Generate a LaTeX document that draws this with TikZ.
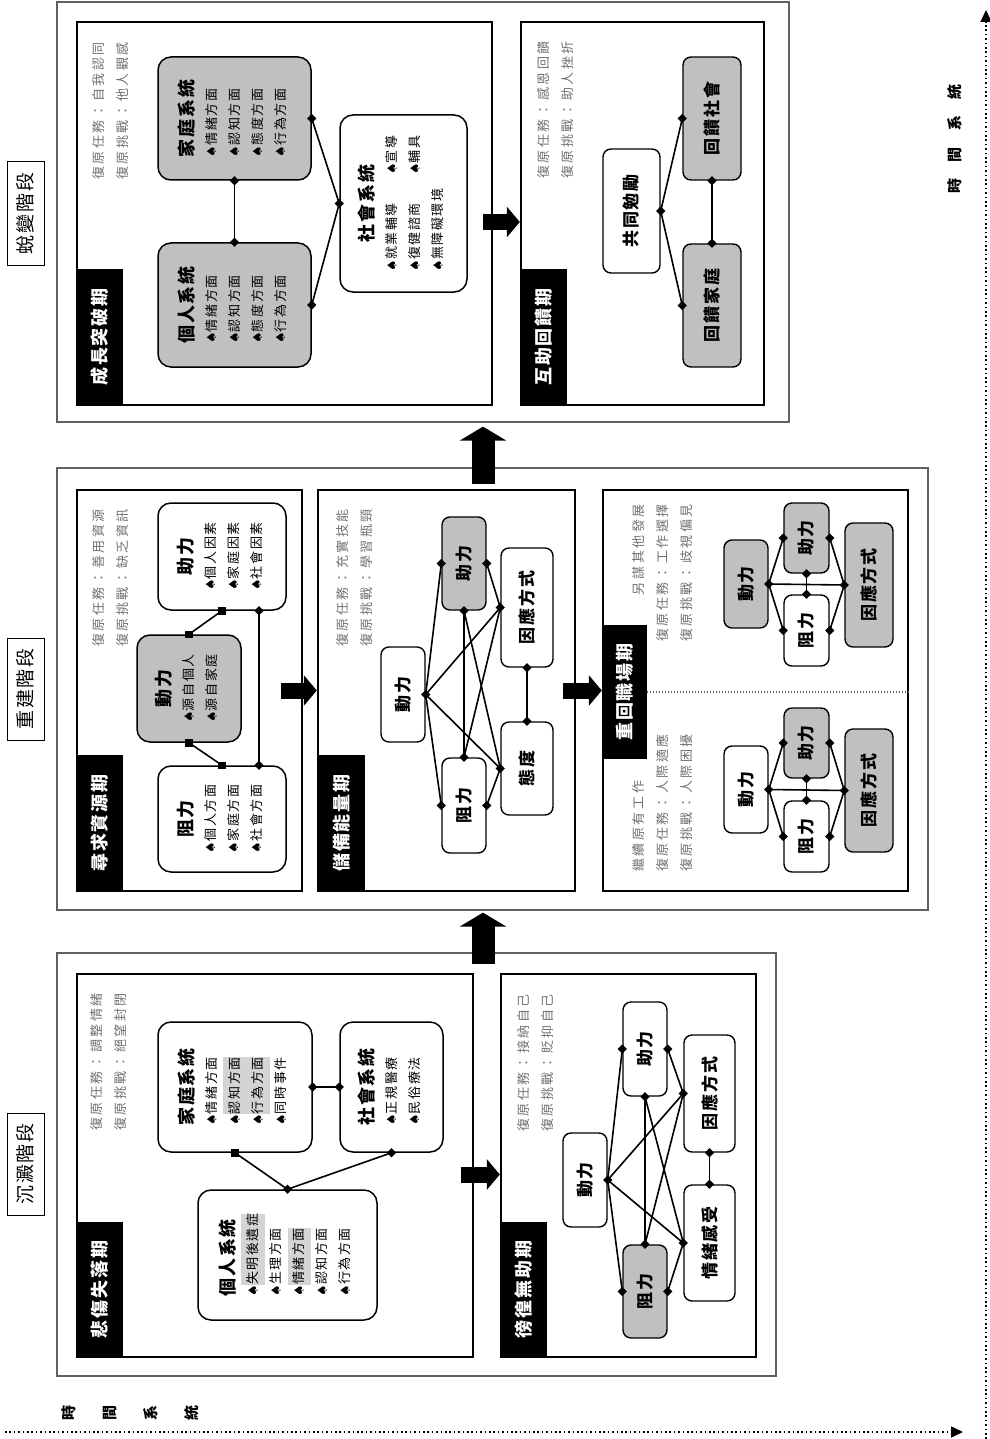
\documentclass[tikz,border=0pt]{standalone}
\usepackage{fontspec}
\usepackage{graphicx}
\usetikzlibrary{arrows.meta,shapes.geometric}
\setmainfont{Noto Sans CJK TC}
\newfontfamily\dvs{DejaVu Sans}
\definecolor{boxgray}{HTML}{C0C0C0}
\definecolor{hlgray}{HTML}{D4D4D4}
\definecolor{txtgray}{HTML}{707070}
\definecolor{stgray}{HTML}{606060}
\newcommand\gtx{\fontsize{13}{24}\selectfont\addfontfeature{LetterSpace=20}\color{txtgray}}
\newcommand\itm{\fontsize{13}{23}\selectfont\addfontfeature{LetterSpace=12}}
\newcommand\ttl{\fontsize{18}{23}\selectfont\bfseries\addfontfeature{LetterSpace=10}}
\newcommand\nbt{\fontsize{17}{20}\selectfont\bfseries\addfontfeature{LetterSpace=10}}
\newcommand\lbt{\fontsize{18}{20}\selectfont\bfseries\addfontfeature{LetterSpace=10}\color{white}}
\newcommand\stt{\fontsize{19}{20}\selectfont\addfontfeature{LetterSpace=10}}
\newcommand\tmt{\fontsize{15}{41}\selectfont\bfseries}
\newcommand\tmr{\fontsize{15}{20}\selectfont\bfseries\addfontfeature{LetterSpace=107}}
\newcommand\bul{{\dvs\fontsize{13}{13}\selectfont ♠}}
\newcommand\hl[1]{{\setlength{\fboxsep}{0pt}\colorbox{hlgray}{\rule[-7pt]{0pt}{23.2pt}#1}}}
\newcommand\rt[3]{\rotatebox{90}{#1\begin{tabular}{@{}#2@{}}#3\end{tabular}}}
\newcommand\rb[1]{\rotatebox{90}{\nbt #1}}
\newcommand\mkbox[7][sys]{\node[#1, minimum width={(#5-#3)*1pt}, minimum height={(#6-#4)*1pt}] (#2) at ({(#3+#5)/2},{(#4+#6)/2}) {#7};}
\newcommand\net[5]{%
 \draw[conn] (#1.east) node[dm]{} -- (#2.west) node[dm]{};
 \draw[conn] (#1.east) -- (#3.west) node[dm]{};
 \draw[conn] (#1.east) -- (#4.west) node[dm]{};
 \draw[conn] (#1.east) -- (#5.west) node[dm]{};
 \draw[conn] (#2.south) node[dm]{} -- (#3.north) node[dm]{};
 \draw[conn] (#2.south) -- (#5.west);
 \draw[conn] (#3.north) -- (#4.west);
 \draw[conn] (#2.east) node[dm]{} -- (#4.west);
 \draw[conn] (#3.east) node[dm]{} -- (#5.west);
 \draw[conn] (#4.south) node[dm]{} -- (#5.north) node[dm]{};}
\newcommand\jnet[4]{%
 \draw[conn] (#1.east) node[dm]{} -- (#2.west) node[dm]{};
 \draw[conn] (#1.east) -- (#3.west) node[dm]{};
 \draw[conn] (#1.east) -- (#4.west) node[dm]{};
 \draw[conn] (#2.south) node[dm]{} -- (#3.north) node[dm]{};
 \draw[conn] (#2.east) node[dm]{} -- (#4.west);
 \draw[conn] (#3.east) node[dm]{} -- (#4.west);}
\tikzset{
 stagebox/.style={draw=stgray, line width=1.2pt, inner sep=0pt},
 inbox/.style={draw=black, line width=2.4pt, inner sep=0pt},
 lab/.style={fill=black, inner sep=0pt},
 stlab/.style={draw=black, line width=1pt, inner sep=0pt},
 sys/.style={draw=black, line width=1.5pt, rounded corners=13pt, fill=white, inner sep=0pt},
 gsys/.style={sys, fill=boxgray},
 nb/.style={draw=black, line width=1.4pt, rounded corners=8pt, fill=white, inner sep=0pt},
 gnb/.style={nb, fill=boxgray},
 conn/.style={line width=1.6pt},
 dm/.style={diamond, fill=black, inner sep=0pt, minimum size=10pt},
 sq/.style={rectangle, fill=black, inner sep=0pt, minimum size=7.5pt},
 blk/.style={line width=16pt, -{Triangle[length=13pt,width=30pt]}},
 bigarr/.style={line width=23pt, -{Triangle[length=14pt,width=46pt]}},
 axis/.style={line width=1.6pt, dash pattern=on 1.6pt off 2.8pt, -{Triangle[length=12pt,width=11pt]}},
 divl/.style={line width=1.2pt, dash pattern=on 1.2pt off 1.8pt, draw=stgray},
 txt/.style={inner sep=0pt},
}
\begin{document}
\begin{tikzpicture}[x=1pt,y=-1pt]
\useasboundingbox (0,0) rectangle (989,1439);
% stage labels
\mkbox[stlab]{st3}{7}{162}{44}{265}{\rotatebox{90}{\stt 蛻變階段}}
\mkbox[stlab]{st2}{7}{638}{44}{740}{\rotatebox{90}{\stt 重建階段}}
\mkbox[stlab]{st1}{7}{1113}{44}{1215}{\rotatebox{90}{\stt 沉澱階段}}
% stage boxes
\mkbox[stagebox]{S3}{57}{2}{789}{422}{}
\mkbox[stagebox]{S2}{57}{468}{928}{910}{}
\mkbox[stagebox]{S1}{57}{953}{776}{1376}{}
% inner boxes
\mkbox[inbox]{I31}{77}{22}{492}{405}{}
\mkbox[inbox]{I32}{521}{22}{764}{405}{}
\mkbox[inbox]{I21}{77}{490}{302}{891}{}
\mkbox[inbox]{I22}{318}{490}{575}{891}{}
\mkbox[inbox]{I23}{603}{490}{908}{891}{}
\mkbox[inbox]{I11}{77}{974}{473}{1357}{}
\mkbox[inbox]{I12}{501}{974}{756}{1357}{}
% black labels
\mkbox[lab]{L31}{77}{269}{123}{405}{\rotatebox{90}{\lbt 成長突破期}}
\mkbox[lab]{L32}{521}{269}{567}{405}{\rotatebox{90}{\lbt 互助回饋期}}
\mkbox[lab]{L21}{77}{755}{123}{891}{\rotatebox{90}{\lbt 尋求資源期}}
\mkbox[lab]{L22}{318}{755}{365}{891}{\rotatebox{90}{\lbt 儲備能量期}}
\mkbox[lab]{L23}{603}{625}{647}{759}{\rotatebox{90}{\lbt 重回職場期}}
\mkbox[lab]{L11}{77}{1222}{123}{1357}{\rotatebox{90}{\lbt 悲傷失落期}}
\mkbox[lab]{L12}{501}{1222}{547}{1357}{\rotatebox{90}{\lbt 徬徨無助期}}
% task texts
\node[txt] (T31) at (111,111) {\rt{\gtx}{l}{復原任務：自我認同\\復原挑戰：他人觀感}};
\node[txt] (T32) at (556,110) {\rt{\gtx}{l}{復原任務：感恩回饋\\復原挑戰：助人挫折}};
\node[txt] (T21) at (111,578) {\rt{\gtx}{l}{復原任務：善用資源\\復原挑戰：缺乏資訊}};
\node[txt] (T22) at (355,578) {\rt{\gtx}{l}{復原任務：充實技能\\復原挑戰：學習瓶頸}};
\node[txt] (T23a) at (663,573) {\rt{\gtx}{r}{另謀其他發展\\復原任務：工作選擇\\復原挑戰：歧視偏見}};
\node[txt] (T23b) at (663,803) {\rt{\gtx}{l}{繼續原有工作\\復原任務：人際適應\\復原挑戰：人際困擾}};
\node[txt] (T11) at (109,1062) {\rt{\gtx}{l}{復原任務：調整情緒\\復原挑戰：絕望封閉}};
\node[txt] (T12) at (536,1063) {\rt{\gtx}{l}{復原任務：接納自己\\復原挑戰：貶抑自己}};
% ---- stage 3
\mkbox[gsys]{fam3}{158}{57}{311}{180}{\rt{\itm}{l}{\ttl 家庭系統\\\bul 情緒方面\\\bul 認知方面\\\bul 態度方面\\\bul 行為方面}}
\mkbox[gsys]{ind3}{158}{243}{311}{367}{\rt{\itm}{l}{\ttl 個人系統\\\bul 情緒方面\\\bul 認知方面\\\bul 態度方面\\\bul 行為方面}}
\mkbox[sys]{soc3}{340}{115}{467}{292}{\rt{\itm}{l@{\hspace{14pt}}l}{\multicolumn{2}{@{}c@{}}{\ttl 社會系統}\\\bul 就業輔導 & \bul 宣導\\\bul 復健諮商 & \bul 輔具\\\bul 無障礙環境 & }}
\draw[conn] (fam3.south) node[dm]{} -- (ind3.north) node[dm]{};
\draw[conn] (fam3.east) node[dm]{} -- (soc3.west) node[dm]{};
\draw[conn] (ind3.east) node[dm]{} -- (soc3.west);
\mkbox[gnb]{fs3}{683}{57}{741}{180}{\rb{回饋社會}}
\mkbox[nb]{ge3}{603}{149}{660}{273}{\rb{共同勉勵}}
\mkbox[gnb]{ff3}{683}{244}{741}{367}{\rb{回饋家庭}}
\draw[conn] (ge3.east) node[dm]{} -- (fs3.west) node[dm]{};
\draw[conn] (ge3.east) -- (ff3.west) node[dm]{};
\draw[conn] (fs3.south) node[dm]{} -- (ff3.north) node[dm]{};
% ---- stage 2
\mkbox[sys]{hp2}{158}{503}{286}{610}{\rt{\itm}{c}{\ttl 助力\\\bul 個人因素\\\bul 家庭因素\\\bul 社會因素}}
\mkbox[gsys]{mo2}{137}{635}{241}{742}{\rt{\itm}{c}{\ttl 動力\\\bul 源自個人\\\bul 源自家庭}}
\mkbox[sys]{rs2}{158}{766}{286}{872}{\rt{\itm}{c}{\ttl 阻力\\\bul 個人方面\\\bul 家庭方面\\\bul 社會方面}}
\draw[conn] (mo2.north) node[sq]{} -- (hp2.south) node[sq]{};
\draw[conn] (mo2.south) node[sq]{} -- (rs2.north) node[sq]{};
\draw[conn] ([xshift=37pt]hp2.south) node[dm]{} -- ([xshift=37pt]rs2.north) node[dm]{};
\mkbox[gnb]{hp22}{442}{517}{486}{610}{\rb{助力}}
\mkbox[nb]{cp22}{501}{548}{553}{667}{\rb{因應方式}}
\mkbox[nb]{mo22}{381}{647}{425}{742}{\rb{動力}}
\mkbox[nb]{at22}{501}{722}{553}{815}{\rb{態度}}
\mkbox[nb]{rs22}{442}{758}{486}{853}{\rb{阻力}}
\net{mo22}{hp22}{rs22}{cp22}{at22}
\draw[divl] (L23.east) -- (L23.east -| I23.east);
\mkbox[gnb]{hp23a}{784}{503}{829}{573}{\rb{助力}}
\mkbox[gnb]{mo23a}{724}{540}{768}{628}{\rb{動力}}
\mkbox[nb]{rs23a}{784}{595}{829}{666}{\rb{阻力}}
\mkbox[gnb]{cp23a}{845}{523}{893}{647}{\rb{因應方式}}
\jnet{mo23a}{hp23a}{rs23a}{cp23a}
\mkbox[gnb]{hp23b}{784}{708}{829}{778}{\rb{助力}}
\mkbox[nb]{mo23b}{724}{746}{768}{833}{\rb{動力}}
\mkbox[nb]{rs23b}{784}{801}{829}{872}{\rb{阻力}}
\mkbox[gnb]{cp23b}{845}{729}{893}{852}{\rb{因應方式}}
\jnet{mo23b}{hp23b}{rs23b}{cp23b}
% ---- stage 1
\mkbox[sys]{fam1}{158}{1022}{312}{1152}{\rt{\itm}{l}{\ttl 家庭系統\\\bul 情緒方面\\\bul\hl{認知方面}\\\bul\hl{行為方面}\\\bul 同時事件}}
\mkbox[sys]{soc1}{340}{1022}{443}{1152}{\rt{\itm}{l}{\ttl 社會系統\\\bul 正規醫療\\\bul 民俗療法}}
\mkbox[sys]{ind1}{198}{1190}{377}{1320}{\rt{\itm}{l}{\ttl 個人系統\\\bul\hl{失明後遺症}\\\bul 生理方面\\\bul\hl{情緒方面}\\\bul 認知方面\\\bul 行為方面}}
\draw[conn] (fam1.east) node[dm]{} -- (soc1.west) node[dm]{};
\draw[conn] (fam1.south) node[sq]{} -- (ind1.north) node[dm]{};
\draw[conn] (soc1.south) node[dm]{} -- (ind1.north);
\mkbox[nb]{hp12}{623}{1002}{667}{1096}{\rb{助力}}
\mkbox[nb]{cp12}{684}{1035}{735}{1152}{\rb{因應方式}}
\mkbox[nb]{mo12}{563}{1133}{607}{1227}{\rb{動力}}
\mkbox[nb]{em12}{684}{1185}{735}{1301}{\rb{情緒感受}}
\mkbox[gnb]{rs12}{623}{1245}{667}{1338}{\rb{阻力}}
\net{mo12}{hp12}{rs12}{cp12}{em12}
% ---- arrows between periods
\draw[blk] ([xshift=-13pt,yshift=-9pt]I11.east) -- ([yshift=-9pt]I12.west);
\draw[blk] ([xshift=-22pt]I21.east) -- (I22.west);
\draw[blk] ([xshift=-13pt]I22.east) -- (I23.west);
\draw[blk] ([xshift=-10pt,yshift=-8.5pt]I31.east) -- ([yshift=-8.5pt]I32.west);
\draw[bigarr] ([xshift=66.5pt,yshift=-12pt]S1.north) -- ([xshift=-9.5pt,yshift=-2pt]S2.south);
\draw[bigarr] ([xshift=-9.5pt,yshift=-17pt]S2.north) -- ([xshift=60pt,yshift=-4pt]S3.south);
% ---- time axes
\coordinate (ax0) at (5,1432);
\coordinate (ax1) at (963,1432);
\coordinate (ay0) at (986,1439);
\coordinate (ay1) at (986,10);
\draw[axis] (ax0) -- (ax1);
\draw[axis] (ay0) -- (ay1);
\node[txt] (tl1) at (128,1413) {\rt{\tmt}{c}{時\\間\\系\\統}};
\node[txt] (tl2) at (955,139) {\rotatebox{90}{\tmr 時間系統}};
\end{tikzpicture}
\end{document}
